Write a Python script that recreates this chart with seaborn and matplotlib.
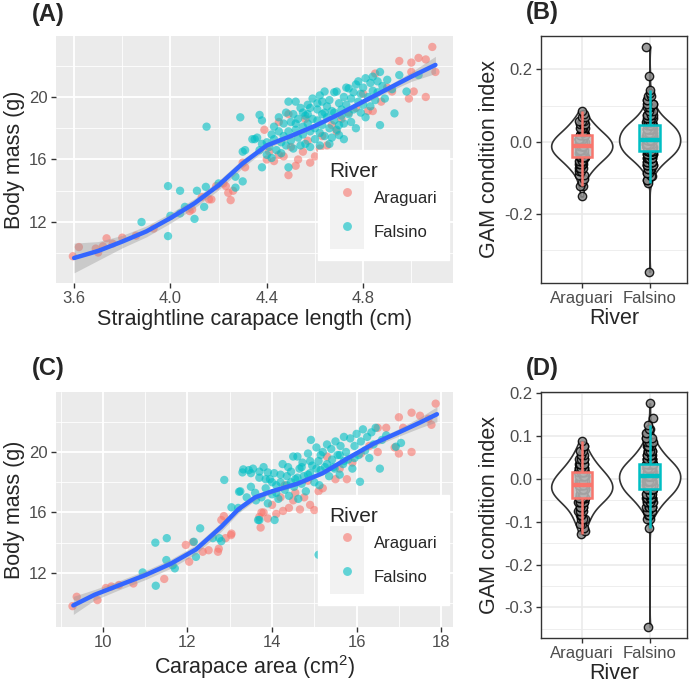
import numpy as np
import pandas as pd
import matplotlib
matplotlib.use("Agg")
import matplotlib.pyplot as plt
import seaborn as sns
from matplotlib.patches import Rectangle
from matplotlib.lines import Line2D
from matplotlib.legend_handler import HandlerTuple

# ---------------- data ----------------
rivers = ["Araguari", "Falsino"]
river_colors = ["#F8766D", "#00BFC4"]

# Panel A: straightline carapace length (cm) vs body mass (g)
a_arag_len = [3.595, 3.62, 3.69, 3.70, 3.72, 3.735, 3.76, 3.80, 3.857, 3.93,
              4.08, 4.09, 4.13, 4.16, 4.17, 4.19, 4.22, 4.23, 4.24, 4.25,
              4.26, 4.30, 4.31, 4.39, 4.40, 4.41, 4.43, 4.45, 4.45, 4.47,
              4.49, 4.49, 4.50, 4.52, 4.53, 4.55, 4.56, 4.57, 4.58, 4.60,
              4.62, 4.63, 4.65, 4.67, 4.69, 4.71, 4.74, 4.77, 4.80, 4.82,
              4.84, 4.85, 4.875, 4.90, 4.92, 4.95, 4.99, 5.00, 5.00, 5.01,
              5.03, 5.06, 5.06, 5.087, 5.10]
a_arag_mass = [9.81, 10.4, 10.3, 10.05, 10.45, 10.96, 10.62, 11.0, 11.13, 11.58,
               12.7, 12.8, 13.6, 13.45, 13.45, 14.3, 14.47, 14.3, 13.87, 13.4,
               14.0, 15.8, 15.5, 17.9, 16.0, 16.5, 15.9, 16.3, 18.4, 16.2,
               15.0, 18.9, 16.8, 15.6, 16.0, 16.5, 18.6, 17.2, 15.8, 16.2,
               16.7, 17.5, 16.9, 18.2, 17.8, 18.6, 19.0, 19.3, 20.2, 19.1,
               19.1, 21.5, 19.7, 20.6, 20.35, 22.3, 19.9, 22.2, 21.6, 20.35,
               22.5, 20.0, 22.4, 23.2, 21.6]
a_fals_len = [3.88, 3.99, 3.99, 4.00, 4.04, 4.04, 4.06, 4.10, 4.11, 4.14,
              4.147, 4.15, 4.20, 4.27, 4.27, 4.29, 4.30, 4.30, 4.31, 4.34,
              4.35, 4.36, 4.37, 4.37, 4.38, 4.38, 4.38, 4.40, 4.40, 4.41,
              4.42, 4.42, 4.43, 4.43, 4.44, 4.45, 4.45, 4.46, 4.46, 4.47,
              4.47, 4.48, 4.48, 4.49, 4.49, 4.49, 4.50, 4.50, 4.51, 4.51,
              4.52, 4.52, 4.53, 4.53, 4.54, 4.54, 4.55, 4.55, 4.56, 4.56,
              4.57, 4.57, 4.58, 4.58, 4.59, 4.59, 4.60, 4.60, 4.61, 4.61,
              4.62, 4.62, 4.62, 4.63, 4.63, 4.64, 4.64, 4.65, 4.65, 4.66,
              4.66, 4.66, 4.67, 4.67, 4.68, 4.68, 4.69, 4.69, 4.70, 4.70,
              4.71, 4.71, 4.72, 4.72, 4.72, 4.73, 4.73, 4.74, 4.74, 4.75,
              4.75, 4.76, 4.76, 4.77, 4.77, 4.78, 4.78, 4.79, 4.79, 4.80,
              4.80, 4.81, 4.81, 4.82, 4.83, 4.83, 4.84, 4.84, 4.85, 4.86,
              4.86, 4.87, 4.87, 4.88, 4.89, 4.90, 4.92, 4.93, 4.95, 4.98,
              5.03, 4.55, 4.58, 4.61, 4.64, 4.68, 4.52, 4.57, 4.63, 4.70]
a_fals_mass = [12.0, 11.1, 14.3, 12.4, 14.0, 12.55, 12.97, 12.2, 14.0, 12.97,
               14.25, 18.1, 14.47, 14.2, 14.9, 18.7, 14.6, 16.5, 16.6, 17.3,
               17.3, 17.4, 16.6, 18.85, 15.5, 18.5, 17.0, 16.3, 17.1, 16.8,
               17.6, 16.1, 17.3, 18.1, 16.6, 17.8, 18.7, 17.1, 16.4, 18.3,
               17.5, 16.9, 19.0, 17.8, 15.5, 19.7, 18.4, 17.2, 16.7, 18.9,
               19.7, 17.9, 17.4, 18.6, 16.9, 19.3, 18.1, 17.6, 18.8, 17.0,
               19.5, 18.3, 17.8, 16.8, 18.6, 19.9, 18.0, 17.3, 19.2, 18.5,
               17.7, 20.1, 16.9, 18.9, 18.2, 20.35, 17.5, 19.4, 18.7, 18.0,
               19.8, 17.0, 17.4, 19.1, 18.5, 20.3, 20.35, 17.9, 19.6, 17.56,
               18.8, 19.2, 20.0, 18.3, 17.3, 19.5, 20.6, 20.55, 18.9, 19.9,
               18.4, 20.3, 19.2, 18.0, 20.8, 19.7, 21.0, 20.2, 19.0, 20.6,
               19.5, 21.2, 18.7, 20.0, 20.9, 19.4, 21.3, 20.4, 19.8, 21.0,
               20.3, 21.6, 18.2, 20.7, 19.9, 21.1, 20.5, 18.95, 21.4, 20.35,
               21.4, 19.0, 19.3, 19.6, 19.0, 19.0, 18.3, 18.9, 19.7, 18.2]
a_smooth_len = [3.60, 3.70, 3.80, 3.90, 4.00, 4.10, 4.20, 4.30,
                4.40, 4.50, 4.60, 4.70, 4.80, 4.90, 5.00, 5.10]
a_smooth_mass = [9.70, 10.15, 10.75, 11.40, 12.25, 13.20, 14.35, 15.75,
                 16.90, 17.50, 18.15, 18.90, 19.70, 20.50, 21.30, 22.05]
a_smooth_se = [0.95, 0.60, 0.40, 0.35, 0.32, 0.30, 0.30, 0.28,
               0.20, 0.14, 0.12, 0.12, 0.14, 0.20, 0.30, 0.55]

# Panel C: carapace area (cm2) vs body mass (g)
c_arag_area = [9.28, 9.38, 9.87, 10.07, 10.20, 10.38, 10.72, 11.45, 12.04, 11.96,
               12.13, 12.36, 12.50, 12.74, 12.72, 12.90, 13.03, 12.80, 12.86, 13.04,
               13.73, 13.70, 13.75, 13.80, 13.90, 14.00, 14.10, 14.26, 14.40, 14.50,
               14.66, 14.76, 14.90, 15.00, 15.10, 15.30, 15.50, 15.77, 15.90, 16.10,
               16.30, 16.50, 16.50, 16.70, 16.90, 17.00, 17.00, 17.10, 17.30, 17.30,
               17.50, 17.70, 17.77, 17.87, 14.30, 14.55, 14.20, 15.20, 14.85, 15.60]
c_arag_mass = [9.8, 10.42, 10.2, 11.0, 11.1, 11.2, 11.3, 11.6, 12.74, 13.85,
               14.04, 13.4, 13.5, 13.6, 13.4, 14.3, 14.5, 15.5, 15.76, 14.6,
               15.0, 15.7, 16.0, 16.0, 15.6, 16.5, 15.9, 16.1, 16.3, 16.8,
               16.2, 17.0, 16.5, 16.16, 17.4, 19.7, 18.2, 18.2, 19.3, 19.9,
               20.4, 20.0, 21.6, 21.6, 20.3, 19.9, 22.3, 21.6, 20.0, 22.6,
               22.4, 22.2, 21.8, 23.2, 17.8, 17.3, 17.0, 17.6, 18.1, 18.9]
c_fals_area = [10.94, 11.25, 11.24, 11.51, 11.50, 11.65, 11.70, 12.15, 12.20, 12.30,
               12.60, 12.75, 12.80, 12.87, 13.04, 13.22, 13.25, 13.30, 13.32, 13.50,
               13.70, 13.90, 13.20, 13.70, 13.40, 15.10, 13.45, 13.50, 13.55, 13.60,
               13.62, 13.67, 13.70, 13.75, 13.80, 13.85, 13.90, 13.95, 14.00, 14.06,
               14.05, 14.10, 14.15, 14.20, 14.25, 14.30, 14.35, 14.38, 14.40, 14.45,
               14.50, 14.52, 14.55, 14.60, 14.62, 14.65, 14.70, 14.72, 14.75, 14.80,
               14.85, 14.90, 14.92, 14.95, 15.00, 15.05, 15.10, 15.12, 15.15, 15.20,
               15.25, 15.30, 15.35, 15.40, 15.42, 15.48, 15.50, 15.55, 15.60, 15.62,
               15.68, 15.70, 15.75, 15.80, 15.85, 15.90, 15.95, 16.00, 16.05, 16.08,
               16.10, 16.15, 16.20, 16.25, 16.30, 16.35, 16.40, 16.45, 16.55, 16.60,
               16.70, 16.93, 17.05, 14.00, 14.20, 14.45, 14.70, 14.90, 15.15, 15.45,
               15.70, 15.95, 13.85, 14.10, 14.35, 14.60, 14.85, 15.05, 15.30, 15.60]
c_fals_mass = [12.03, 11.15, 14.0, 14.3, 12.85, 12.5, 12.3, 14.06, 13.06, 14.95,
               14.3, 14.3, 14.1, 18.15, 16.34, 17.37, 17.4, 18.65, 18.85, 18.6,
               18.7, 18.65, 16.3, 15.5, 17.0, 13.2, 18.8, 17.7, 18.9, 17.3,
               16.8, 15.5, 18.3, 17.0, 19.0, 17.6, 16.6, 18.2, 17.2, 15.5,
               18.6, 17.8, 16.9, 18.0, 19.2, 17.5, 18.4, 19.0, 17.1, 18.7,
               19.7, 17.7, 18.2, 19.7, 16.9, 18.9, 17.9, 19.3, 18.4, 17.4,
               19.9, 18.6, 20.8, 19.1, 18.0, 20.3, 19.4, 17.8, 18.8, 20.0,
               19.0, 20.5, 18.4, 20.2, 19.5, 18.9, 20.7, 19.8, 18.5, 20.4,
               19.2, 21.0, 20.0, 19.5, 20.9, 18.9, 20.4, 21.2, 19.8, 18.03,
               20.7, 21.5, 20.1, 21.0, 19.6, 21.3, 20.5, 21.6, 18.9, 20.8,
               21.1, 20.35, 20.6, 18.0, 18.5, 18.0, 19.0, 19.4, 19.8, 19.0,
               19.4, 19.6, 18.2, 17.3, 17.8, 18.3, 18.5, 18.9, 19.2, 19.8]
c_smooth_area = [9.3, 9.8, 10.4, 11.0, 11.6, 12.2, 12.8, 13.2, 13.6,
                 14.0, 14.6, 15.2, 15.8, 16.4, 17.0, 17.5, 17.9]
c_smooth_mass = [9.85, 10.55, 11.2, 11.85, 12.6, 13.55, 15.05, 16.2, 17.0,
                 17.4, 17.9, 18.6, 19.6, 20.55, 21.3, 21.95, 22.5]
c_smooth_se = [0.60, 0.35, 0.30, 0.30, 0.30, 0.30, 0.30, 0.25, 0.20,
               0.15, 0.12, 0.12, 0.14, 0.18, 0.25, 0.35, 0.50]

# Panels B and D: GAM condition index, as read-off values and how many
# points sit at each value
b_arag_vals = [-0.151, -0.122, -0.112, -0.102, -0.092, -0.082, -0.072, -0.062, -0.052, -0.042,
               -0.032, -0.022, -0.012, -0.002, 0.008, 0.018, 0.028, 0.038, 0.048, 0.058,
               0.068, 0.078, 0.085]
b_arag_cnts = [1, 2, 1, 1, 2, 3, 4, 5, 6, 8,
               9, 10, 10, 10, 9, 8, 6, 5, 4, 3,
               2, 1, 1]
b_fals_vals = [-0.359, -0.115, -0.105, -0.095, -0.085, -0.075, -0.065, -0.055, -0.045, -0.035,
               -0.025, -0.015, -0.005, 0.005, 0.015, 0.025, 0.035, 0.045, 0.055, 0.065,
               0.075, 0.085, 0.095, 0.105, 0.115, 0.125, 0.134, 0.142, 0.182, 0.263]
b_fals_cnts = [1, 1, 2, 2, 3, 5, 7, 9, 12, 15,
               17, 18, 19, 19, 19, 18, 17, 15, 12, 9,
               7, 5, 4, 3, 2, 2, 1, 1, 1, 1]
d_arag_vals = [-0.128, -0.122, -0.115, -0.105, -0.095, -0.085, -0.075, -0.065, -0.055, -0.045,
               -0.035, -0.025, -0.015, -0.005, 0.005, 0.015, 0.025, 0.035, 0.045, 0.055,
               0.065, 0.075, 0.087]
d_arag_cnts = [1, 1, 1, 2, 3, 3, 4, 5, 7, 9,
               10, 11, 11, 10, 9, 8, 6, 5, 4, 3,
               2, 2, 1]
d_fals_vals = [-0.345, -0.115, -0.095, -0.085, -0.075, -0.065, -0.055, -0.045, -0.035, -0.025,
               -0.015, -0.005, 0.005, 0.015, 0.025, 0.035, 0.045, 0.055, 0.065, 0.075,
               0.085, 0.095, 0.105, 0.115, 0.125, 0.140, 0.175]
d_fals_cnts = [1, 1, 2, 3, 5, 7, 9, 12, 15, 18,
               19, 20, 21, 20, 19, 16, 13, 10, 8, 6,
               4, 3, 2, 2, 1, 1, 1]

# ---------------- style ----------------
sns.set_theme(style="white")
plt.rcParams["font.family"] = ["Liberation Sans", "DejaVu Sans"]
plt.rcParams["mathtext.fontset"] = "custom"
plt.rcParams["mathtext.rm"] = "Liberation Sans"
plt.rcParams["mathtext.it"] = "Liberation Sans:italic"

W, H = 693, 688
fig = plt.figure(figsize=(W / 100, H / 100), dpi=100)
pal = dict(zip(rivers, river_colors))
TICK_FS, LAB_FS = 12, 15.5


def px_axes(l, t, r, b):
    return fig.add_axes([l / W, 1 - b / H, (r - l) / W, (b - t) / H])


def scatter_panel(ax, ax_x, ax_y, fx, fy, sx, sy, se, xt, xminor, yt, yminor, xlim, ylim, xlabel, leg_top):
    df = pd.DataFrame({
        "x": list(ax_x) + list(fx),
        "y": list(ax_y) + list(fy),
        "River": [rivers[0]] * len(ax_x) + [rivers[1]] * len(fx),
    })
    ax.set_facecolor("#EBEBEB")
    sns.scatterplot(data=df, x="x", y="y", hue="River", hue_order=rivers, palette=pal,
                    s=36, alpha=0.6, linewidth=0, legend=False, ax=ax, zorder=2)
    sx = np.array(sx); sy = np.array(sy); se = np.array(se)
    ax.fill_between(sx, sy - se, sy + se, color="#999999", alpha=0.4, linewidth=0, zorder=3)
    sns.lineplot(x=sx, y=sy, color="#3366FF", linewidth=3.2, ax=ax, zorder=4)
    ax.set_xlim(*xlim); ax.set_ylim(*ylim)
    ax.set_xticks(xt); ax.set_xticks(xminor, minor=True)
    ax.set_yticks(yt); ax.set_yticks(yminor, minor=True)
    ax.set_xticklabels([f"{v:g}" if float(v).is_integer() and v > 5 else f"{v:.1f}" for v in xt])
    ax.set_yticklabels([f"{v:g}" for v in yt])
    ax.grid(True, which="major", color="white", linewidth=1.3)
    ax.grid(True, which="minor", color="white", linewidth=0.6)
    ax.set_axisbelow(True)
    for s in ax.spines.values():
        s.set_visible(False)
    ax.tick_params(which="major", length=3.5, width=1, color="#333333",
                   labelsize=TICK_FS, labelcolor="#4D4D4D", pad=2.5,
                   bottom=True, left=True)
    ax.tick_params(which="minor", length=0)
    ax.set_xlabel(xlabel, fontsize=LAB_FS, labelpad=2)
    ax.set_ylabel("Body mass (g)", fontsize=LAB_FS, labelpad=3)
    handles = [(Rectangle((0, 0), 1, 1, facecolor="#F2F2F2", edgecolor="none"),
                Line2D([], [], marker="o", linestyle="none", markersize=6.4,
                       markerfacecolor=c, markeredgewidth=0, alpha=0.6))
               for c in river_colors]
    leg = ax.legend(handles, rivers, title="River", loc="upper left",
                    bbox_to_anchor=(0.66, leg_top), fontsize=12, title_fontsize=15,
                    handler_map={tuple: HandlerTuple(ndivide=1, pad=0)},
                    handlelength=2.05, handleheight=2.76, labelspacing=0.0,
                    handletextpad=0.6, borderpad=0.7, borderaxespad=0,
                    frameon=True, fancybox=False, alignment="left")
    leg.get_frame().set_facecolor("white")
    leg.get_frame().set_edgecolor("white")
    leg.get_frame().set_alpha(1)
    leg.set_zorder(10)


def violin_panel(ax, av, ac, fv, fc, yt, yminor, ylim):
    arag = np.repeat(av, ac)
    fals = np.repeat(fv, fc)
    df = pd.DataFrame({
        "River": [rivers[0]] * len(arag) + [rivers[1]] * len(fals),
        "idx": np.concatenate([arag, fals]),
    })
    ax.set_facecolor("white")
    n0 = len(ax.collections)
    for r, bw in zip(rivers, [0.9, 0.72]):
        sns.violinplot(data=df[df["River"] == r], x="River", y="idx", order=rivers,
                       color="white", linecolor="#333333", linewidth=1.2, cut=0, inner=None,
                       density_norm="width", width=0.9, bw_adjust=bw, saturation=1, ax=ax)
    for c in ax.collections[n0:]:
        c.set_zorder(1)
    n1 = len(ax.collections)
    sns.stripplot(data=df, x="River", y="idx", order=rivers, color="#8C8C8C",
                  edgecolor="black", linewidth=1.0, size=6, jitter=0.05, alpha=0.85, ax=ax)
    for c in ax.collections[n1:]:
        c.set_zorder(2)
    for r in rivers:
        sub = df[df["River"] == r]
        sns.boxplot(data=sub, x="River", y="idx", order=rivers, color="#BEBEBE",
                    linecolor=pal[r], width=0.3, showfliers=False, showcaps=False,
                    linewidth=1.8, saturation=1, medianprops=dict(linewidth=3.2), ax=ax)
    for p in ax.patches:
        p.set_facecolor((0.74, 0.74, 0.74, 0.85))
        p.set_zorder(3)
    for ln in ax.lines:
        ln.set_zorder(3.5)
    ax.set_xlim(-0.6, 1.55)
    ax.set_ylim(*ylim)
    ax.set_yticks(yt); ax.set_yticks(yminor, minor=True)
    ax.set_yticklabels([f"{v:.1f}" for v in yt])
    ax.grid(True, which="major", color="#EBEBEB", linewidth=1.2)
    ax.grid(True, which="minor", color="#EBEBEB", linewidth=0.6)
    ax.set_axisbelow(True)
    for s in ax.spines.values():
        s.set_visible(True); s.set_color("#333333"); s.set_linewidth(1.0)
    ax.tick_params(which="major", length=3.5, width=1, color="#333333",
                   labelsize=TICK_FS, labelcolor="#4D4D4D", pad=2.5, bottom=True, left=True)
    ax.tick_params(which="minor", length=0)
    ax.set_xlabel("River", fontsize=LAB_FS, labelpad=1)
    ax.set_ylabel("GAM condition index", fontsize=LAB_FS, labelpad=3)


np.random.seed(3)

axA = px_axes(56, 36, 453, 283)
scatter_panel(axA, a_arag_len, a_arag_mass, a_fals_len, a_fals_mass,
              a_smooth_len, a_smooth_mass, a_smooth_se,
              [3.6, 4.0, 4.4, 4.8], [3.8, 4.2, 4.6, 5.0], [12, 16, 20], [10, 14, 18, 22],
              (3.525, 5.173), (8.1, 23.9), "Straightline carapace length (cm)", 0.538)

axB = px_axes(541, 36, 687, 283)
violin_panel(axB, b_arag_vals, b_arag_cnts, b_fals_vals, b_fals_cnts,
             [-0.2, 0.0, 0.2], [-0.3, -0.1, 0.1], (-0.39, 0.292))

axC = px_axes(56, 392, 453, 627)
scatter_panel(axC, c_arag_area, c_arag_mass, c_fals_area, c_fals_mass,
              c_smooth_area, c_smooth_mass, c_smooth_se,
              [10, 12, 14, 16, 18], [9, 11, 13, 15, 17], [12, 16, 20], [10, 14, 18, 22],
              (8.89, 18.28), (8.42, 23.97), r"Carapace area (cm$^2$)", 0.562)

axD = px_axes(541, 392, 687, 638)
violin_panel(axD, d_arag_vals, d_arag_cnts, d_fals_vals, d_fals_cnts,
             [-0.3, -0.2, -0.1, 0.0, 0.1, 0.2],
             [-0.35, -0.25, -0.15, -0.05, 0.05, 0.15], (-0.371, 0.2015))

for tag, x, y in [("(A)", 32, 14), ("(B)", 526, 13), ("(C)", 32, 369), ("(D)", 526, 369)]:
    fig.text(x / W, 1 - y / H, tag, fontsize=17, fontweight="bold", ha="left", va="center")

fig.savefig("out.png", dpi=100)
